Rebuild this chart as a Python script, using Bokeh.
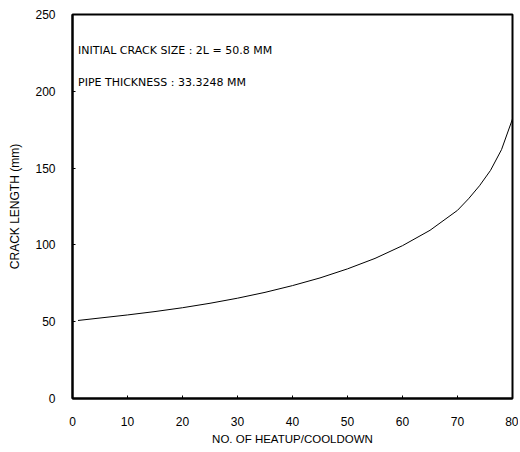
from bokeh.plotting import figure
from bokeh.models import Range1d, Label, FixedTicker
from bokeh.embed import file_html
from bokeh.resources import INLINE

cycles = [1, 5, 10, 15, 20, 25, 30, 35, 40, 45, 50, 55, 60, 65, 70, 72, 74, 76, 78, 80]
crack_length = [50.8, 52.4, 54.4, 56.6, 59.1, 62.0, 65.3, 69.1, 73.5, 78.5, 84.4, 91.2,
                99.5, 109.5, 122.5, 130.0, 138.5, 148.5, 162.0, 182.0]
x_ticks = [0, 10, 20, 30, 40, 50, 60, 70, 80]
y_ticks = [0, 50, 100, 150, 200, 250]
notes = ["INITIAL CRACK SIZE : 2L = 50.8 MM", "PIPE THICKNESS : 33.3248 MM"]

FONT = "Liberation Sans"
NOTE_FONT = "DejaVu Sans"

p = figure(width=518, height=448, output_backend="svg", toolbar_location=None,
           x_range=Range1d(0, 80), y_range=Range1d(0, 250))
p.min_border_left = 72
p.min_border_top = 14
p.min_border_right = 6
p.min_border_bottom = 50
p.background_fill_color = "white"
p.border_fill_color = "white"
p.outline_line_color = "black"
p.outline_line_width = 2
p.xgrid.visible = False
p.ygrid.visible = False

p.line(cycles, crack_length, line_color="black", line_width=1)

for ax in (p.xaxis[0], p.yaxis[0]):
    ax.axis_line_color = "black"
    ax.axis_line_width = 2
    ax.major_tick_in = 3
    ax.major_tick_out = 0
    ax.minor_tick_line_color = None
    ax.major_label_text_font = FONT
    ax.major_label_text_font_size = "12px"
    ax.major_label_text_color = "black"
    ax.axis_label_text_font = FONT
    ax.axis_label_text_font_style = "normal"
    ax.axis_label_text_color = "black"

p.xaxis.axis_label_text_font_size = "11.5px"
p.yaxis.axis_label_text_font_size = "12px"
p.xaxis.ticker = FixedTicker(ticks=x_ticks)
p.yaxis.ticker = FixedTicker(ticks=y_ticks)
p.xaxis.axis_label = "NO. OF HEATUP/COOLDOWN"
p.yaxis.axis_label = "CRACK LENGTH (mm)"
p.xaxis.major_label_standoff = 18
p.yaxis.major_label_standoff = 17
p.xaxis.axis_label_standoff = 4
p.yaxis.axis_label_standoff = 10

p.add_layout(Label(x=1, y=226.5, text=notes[0], text_font=NOTE_FONT, text_font_size="11px",
                   text_baseline="middle", text_color="black"))
p.add_layout(Label(x=1, y=205.8, text=notes[1], text_font=NOTE_FONT, text_font_size="11px",
                   text_baseline="middle", text_color="black"))

open("out.html", "w").write(file_html(p, INLINE))
